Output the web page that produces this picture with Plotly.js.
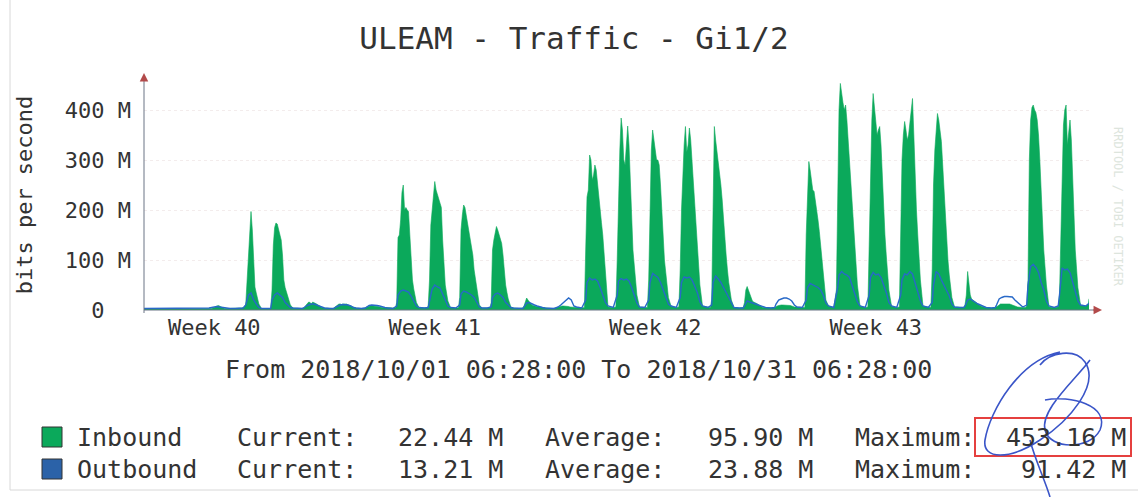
<!DOCTYPE html>
<html><head><meta charset="utf-8">
<script src="https://cdn.plot.ly/plotly-3.0.1.min.js"></script>
<style>html,body{margin:0;padding:0;background:#fff;}#chart{width:1138px;height:497px;}</style>
</head><body><div id="chart"></div>
<script>
// ---------------- DATA (M bits per second) ----------------
const CHART_TITLE = 'ULEAM - Traffic - Gi1/2';
const Y_TITLE = 'bits per second';
const RANGE_START = '2018-10-01 06:28';
const RANGE_END = '2018-10-31 06:28';
const PERIOD_TEXT = 'From 2018/10/01 06:28:00 To 2018/10/31 06:28:00';
const WEEK_LABELS = ['Week 40', 'Week 41', 'Week 42', 'Week 43'];
const WEEK_LABEL_TIMES = ['2018-10-03 12:00', '2018-10-10 12:00', '2018-10-17 12:00', '2018-10-24 12:00'];
const Y_TICK_VALUES = [0, 100, 200, 300, 400];
const Y_TICK_LABELS = ['0\u00a0\u00a0', '100 M', '200 M', '300 M', '400 M'];

const DAYS = ['2018-10-01','2018-10-02','2018-10-03','2018-10-04','2018-10-05','2018-10-06','2018-10-07',
  '2018-10-08','2018-10-09','2018-10-10','2018-10-11','2018-10-12','2018-10-13','2018-10-14',
  '2018-10-15','2018-10-16','2018-10-17','2018-10-18','2018-10-19','2018-10-20','2018-10-21',
  '2018-10-22','2018-10-23','2018-10-24','2018-10-25','2018-10-26','2018-10-27','2018-10-28',
  '2018-10-29','2018-10-30','2018-10-31'];

const HOURS_IN = [0,4,6,7,8,9,10,11,12,13,14,15,16,17,18,19,20,22];
const HOURS_OUT = [0,4,7,8,10,12,14,16,18,20,22];

const inboundWk40 = [
  [2,2,2,2,2,3,3,3,3,3,3,3,3,3,2,2,2,2],
  [2,2,2,2,3,3,3,3,3,3,3,3,3,3,3,2,2,2],
  [2,2,2,2,3,3,3,4,5,6,8,9,8,6,5,4,3,3],
  [3,3,3,3,4,4,5,6,12,60,110,150,197,160,90,46,34,12],
  [3,3,3,3,40,130,165,174,172,160,150,140,110,60,45,36,28,10],
  [4,3,3,3,4,6,10,14,16,15,12,16,15,14,12,10,8,5],
  [4,3,3,4,6,8,10,12,12,11,12,12,11,12,10,9,8,5]
];
const inboundWk41 = [
  [4,3,3,4,6,7,8,8,9,8,8,8,7,7,6,6,5,4],
  [5,4,4,15,145,150,180,235,250,200,205,200,197,150,105,60,42,15],
  [5,4,4,8,60,170,200,230,257,240,230,220,212,205,140,80,50,18],
  [5,4,4,25,160,190,210,205,190,175,155,145,130,110,80,60,40,10],
  [4,4,4,15,120,140,155,167,160,150,140,133,110,70,50,35,22,6],
  [4,3,3,4,8,15,24,20,16,12,10,9,8,8,7,6,6,5],
  [4,3,3,3,4,5,6,7,7,8,8,8,8,7,7,6,6,5]
];
const inboundWk42 = [
  [5,4,5,120,226,240,310,300,260,270,290,280,250,225,200,175,150,80],
  [6,5,6,100,250,320,384,360,300,290,330,368,330,250,170,120,90,30],
  [6,5,5,60,220,320,360,340,310,300,300,290,250,190,130,100,75,25],
  [8,5,6,80,200,280,330,367,316,330,364,340,300,260,220,170,130,50],
  [8,5,5,20,250,367,340,320,300,280,250,220,180,134,110,80,55,20],
  [5,4,4,5,15,40,47,40,30,22,18,16,15,14,12,10,8,5],
  [5,4,4,5,7,8,9,10,10,10,10,10,10,10,9,9,8,6]
];
const inboundWk43 = [
  [6,5,5,150,240,297,280,260,240,237,220,200,180,157,130,100,70,20],
  [8,5,40,250,400,453.16,430,415,400,410,380,340,300,250,200,160,137,50],
  [8,5,6,150,300,380,433,400,370,350,360,367,330,260,200,150,110,40],
  [8,5,6,150,300,350,377,360,340,350,380,400,423,350,260,200,150,60],
  [8,5,5,80,250,320,360,393,380,350,337,290,240,190,140,100,70,25],
  [6,5,5,5,10,30,77,50,30,22,20,18,16,14,12,10,8,6],
  [5,4,4,5,6,8,10,12,12,12,13,13,13,12,12,11,10,8]
];
const inboundWk44 = [
  [6,5,5,8,60,300,380,405,410,400,395,380,350,300,240,180,120,50],
  [6,5,5,6,30,150,300,370,400,410,330,360,380,340,270,190,120,45],
  [10,8,12]
];

const outboundWk40 = [
  [3,3,3,3,4,4,4,4,3,3,3],
  [3,3,3,3,4,4,4,4,3,3,3],
  [3,3,3,4,5,6,7,6,5,4,3],
  [3,3,3,3,4,10,30,34,20,12,5],
  [3,3,3,20,30,34,30,25,15,10,5],
  [4,3,3,4,8,10,12,12,10,8,5],
  [4,3,3,5,8,10,11,11,10,8,5]
];
const outboundWk41 = [
  [4,3,4,6,9,10,10,9,8,6,5],
  [4,3,8,30,38,40,38,36,28,18,8],
  [5,4,5,20,42,50,46,44,30,20,8],
  [5,4,10,32,38,36,33,30,25,15,6],
  [4,4,6,25,32,34,30,25,15,10,5],
  [4,3,3,6,14,15,12,10,8,6,5],
  [4,3,3,4,6,10,15,20,24,20,8]
];
const outboundWk42 = [
  [6,4,20,55,64,60,62,58,45,30,15],
  [8,5,30,58,63,60,62,58,45,30,14],
  [6,5,20,55,73,68,65,55,40,28,12],
  [8,5,25,55,66,64,66,60,48,35,16],
  [8,5,10,55,68,62,55,45,35,25,12],
  [5,4,4,8,18,16,14,12,10,8,6],
  [5,4,5,12,20,22,24,24,22,18,10]
];
const outboundWk43 = [
  [6,5,20,45,53,50,48,45,40,30,14],
  [8,5,45,70,77,72,70,65,50,35,16],
  [8,5,30,65,75,70,72,65,50,35,15],
  [8,5,30,60,72,70,77,72,55,40,18],
  [8,5,15,50,77,72,60,50,40,28,12],
  [6,5,5,8,20,22,18,15,12,10,7],
  [5,4,5,10,22,25,27,27,27,26,20]
];
const outboundWk44 = [
  [15,6,10,50,87,91.42,85,75,55,40,18],
  [8,5,8,30,84,80,82,75,55,40,18],
  [10,8]
];

const SERIES_NAMES = ['Inbound', 'Outbound'];
const STAT_LABELS = ['Current:', 'Average:', 'Maximum:'];
const inboundStats = [22.44, 95.90, 453.16];
const outboundStats = [13.21, 23.88, 91.42];

// ---------------- BUILD ----------------
function buildSeries(weeks, hours, lastValue) {
  const x = [], y = [];
  let di = 0;
  weeks.forEach(w => w.forEach(vals => {
    const day = DAYS[di++];
    vals.forEach((v, i) => {
      x.push(day + ' ' + String(hours[i]).padStart(2, '0') + ':00');
      y.push(v);
    });
  }));
  x.push(RANGE_END); y.push(lastValue);
  return {x, y};
}
const inb = buildSeries([inboundWk40, inboundWk41, inboundWk42, inboundWk43, inboundWk44], HOURS_IN, inboundStats[0]);
const outb = buildSeries([outboundWk40, outboundWk41, outboundWk42, outboundWk43, outboundWk44], HOURS_OUT, outboundStats[0]);

const GREEN = '#0ba95b', BLUE = '#2869c8', TXT = '#333333';
const FONT = 'DejaVu Sans Mono, Liberation Mono, monospace';

const W = 1138, H = 497, L = 144, R = 49, T = 80, B = 187;
const PW = W - L - R, PH = H - T - B, BOT = H - B;
const px = x => (x - L) / PW;
const py = y => (BOT - y) / PH;

function pathFrom(pts) {
  let s = 'M ' + px(pts[0][0]) + ' ' + py(pts[0][1]);
  for (let i = 1; i + 2 < pts.length; i += 3) {
    s += ' C ' + [pts[i], pts[i+1], pts[i+2]].map(p => px(p[0]) + ' ' + py(p[1])).join(', ');
  }
  return s;
}

const traces = [
  {x: inb.x, y: inb.y, type: 'scatter', mode: 'lines', fill: 'tozeroy',
   line: {color: GREEN, width: 0.6}, fillcolor: GREEN, hoverinfo: 'skip', name: SERIES_NAMES[0]},
  {x: outb.x, y: outb.y, type: 'scatter', mode: 'lines',
   line: {color: BLUE, width: 1.4}, hoverinfo: 'skip', name: SERIES_NAMES[1]}
];

const annotations = [];
function txt(text, x, y, anchor, size, color) {
  annotations.push({text: text, x: px(x), y: py(y), xref: 'paper', yref: 'paper',
    xanchor: anchor, yanchor: 'middle', showarrow: false,
    font: {family: FONT, size: size, color: color || TXT}});
}
txt(PERIOD_TEXT, 578, 369, 'center', 25);
const rowsY = [437, 469];
[inboundStats, outboundStats].forEach((st, r) => {
  const y = rowsY[r];
  txt(SERIES_NAMES[r], 75, y, 'left', 25);
  txt(STAT_LABELS[0], 235, y, 'left', 25);
  txt(st[0].toFixed(2) + ' M', 505, y, 'right', 25);
  txt(STAT_LABELS[1], 543, y, 'left', 25);
  txt(st[1].toFixed(2) + ' M', 815, y, 'right', 25);
  txt(STAT_LABELS[2], 853, y, 'left', 25);
  txt(st[2].toFixed(2) + ' M', 1128, y, 'right', 25);
});
// faint watermark
annotations.push({text: 'RRDTOOL / TOBI OETIKER', x: px(1127), y: py(125), xref: 'paper', yref: 'paper',
  showarrow: false, textangle: 90, font: {family: FONT, size: 12, color: '#dde5dd'}});
// axis arrows
annotations.push({text: '', x: px(144), y: py(73), xref: 'paper', yref: 'paper', showarrow: true,
  ax: 0, ay: 9, arrowhead: 2, arrowsize: 1.3, arrowwidth: 1.3, arrowcolor: '#b24a4a'});
annotations.push({text: '', x: px(1102), y: py(310), xref: 'paper', yref: 'paper', showarrow: true,
  ax: -10, ay: 0, arrowhead: 2, arrowsize: 1.3, arrowwidth: 1.3, arrowcolor: '#b24a4a'});

const shapes = [
  {type: 'line', xref: 'paper', yref: 'paper', x0: px(144), x1: px(1094), y0: py(310), y1: py(310), line: {color: '#6b7585', width: 1}},
  {type: 'line', xref: 'paper', yref: 'paper', x0: px(144), x1: px(144), y0: py(313), y1: py(78), line: {color: '#6b7585', width: 1}},
  {type: 'rect', xref: 'paper', yref: 'paper', x0: px(42), x1: px(62), y0: py(427), y1: py(447), fillcolor: GREEN, line: {color: '#333', width: 1}},
  {type: 'rect', xref: 'paper', yref: 'paper', x0: px(42), x1: px(62), y0: py(459), y1: py(479), fillcolor: '#2b62a8', line: {color: '#333', width: 1}},
  {type: 'rect', xref: 'paper', yref: 'paper', x0: px(975), x1: px(1131), y0: py(418), y1: py(456), line: {color: '#e5403f', width: 2}},
  {type: 'line', xref: 'paper', yref: 'paper', x0: px(10), x1: px(10), y0: py(0), y1: py(490), line: {color: '#d8d8d8', width: 1}},
  {type: 'line', xref: 'paper', yref: 'paper', x0: px(10), x1: px(1138), y0: py(490), y1: py(490), line: {color: '#d8d8d8', width: 1}}
];
// pen signature
const sig1 = [[1060,352],[1020,360],[990,410],[985,440],[982,460],[1010,460],[1040,440],[1070,420],[1100,385],[1085,362],[1075,348],[1050,352],[1040,365]];
const sig2 = [[1045,400],[1070,395],[1110,405],[1100,430],[1090,450],[1050,450],[1045,430],[1040,410],[1075,380],[1090,360]];
const sig3 = [[1030,440],[1035,460],[1045,480],[1050,497]];
[sig1, sig2, sig3].forEach(s => shapes.push({type: 'path', xref: 'paper', yref: 'paper', path: pathFrom(s),
  line: {color: '#3a55c8', width: 1.6}}));

const layout = {
  width: W, height: H,
  margin: {l: L, r: R, t: T, b: B, pad: 0},
  paper_bgcolor: '#ffffff', plot_bgcolor: '#ffffff',
  showlegend: false,
  title: {text: CHART_TITLE, font: {family: FONT, size: 31, color: TXT},
    x: 574 / W, xref: 'container', xanchor: 'center', y: 1 - 38 / H, yref: 'container', yanchor: 'middle'},
  xaxis: {type: 'date', range: [RANGE_START, RANGE_END], tickmode: 'array',
    tickvals: WEEK_LABEL_TIMES, ticktext: WEEK_LABELS, ticks: '', showgrid: false,
    zeroline: false, showline: false, tickfont: {family: FONT, size: 22, color: TXT}, ticklabelstandoff: 2},
  yaxis: {range: [0, 460], tickmode: 'array', tickvals: Y_TICK_VALUES, ticktext: Y_TICK_LABELS,
    ticks: '', showgrid: true, gridcolor: 'rgba(190,150,150,0.18)', griddash: 'dot', gridwidth: 1,
    zeroline: false, showline: false, tickfont: {family: FONT, size: 22, color: TXT}, ticklabelstandoff: 12,
    title: {text: Y_TITLE, font: {family: FONT, size: 22, color: TXT}, standoff: 26}},
  shapes: shapes,
  annotations: annotations
};
Plotly.newPlot('chart', traces, layout, {staticPlot: true, displayModeBar: false});
</script></body></html>
